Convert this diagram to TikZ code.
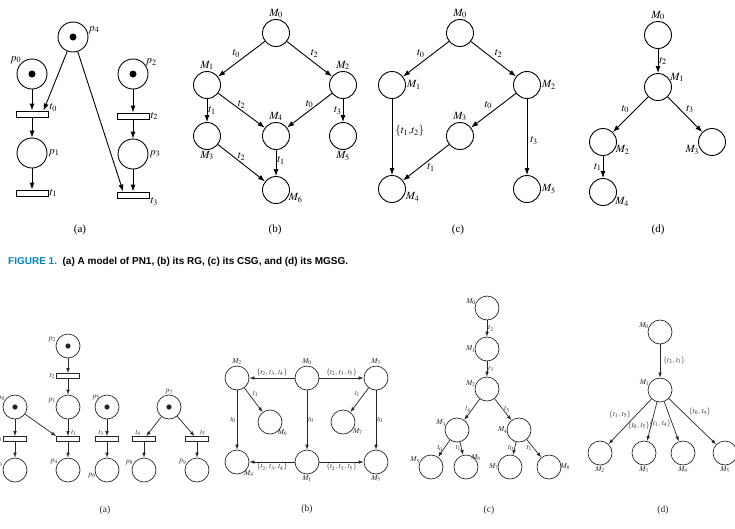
\documentclass[tikz,border=0pt]{standalone}
\usepackage{mathptmx}
\usepackage{fontspec}
\setmainfont{Liberation Serif}
\newfontfamily\capfont{Liberation Sans}
\usetikzlibrary{arrows.meta,calc}
\definecolor{figblue}{RGB}{0,134,196}

\begin{document}
\begin{tikzpicture}[x=1pt,y=-1pt,
  font=\fontsize{11}{13}\selectfont,
  place/.style={draw,circle,line width=0.9pt,minimum size=30pt,inner sep=0pt},
  token/.style={place,path picture={\fill (path picture bounding box.center) circle[radius=3.5pt];}},
  trans/.style={draw,rectangle,line width=0.9pt,minimum width=32pt,minimum height=6pt,inner sep=0pt},
  state/.style={draw,circle,line width=0.9pt,minimum size=27pt,inner sep=0pt},
  lab/.style={inner sep=1pt},
  every label/.style={inner sep=1pt},
  ar/.style={-{Latex[length=7pt,width=5pt]},line width=0.9pt},
  subcap/.style={inner sep=0pt}
]
\useasboundingbox (0,0) rectangle (735,528);

% ---- Figure 1 (a): the net
\node[token,label={[label distance=-1pt]10:$p_4$}] (p4) at (73,37) {};
\node[token,label={[label distance=-2pt]135:$p_0$}] (p0) at (32,74) {};
\node[trans,label={5:$t_0$}] (t0) at (32,114) {};
\node[place,label={right:$p_1$}] (p1) at (32,153) {};
\node[trans,label={right:$t_1$}] (t1) at (32,193) {};
\node[token,label={[label distance=-2pt]30:$p_2$}] (p2) at (133,74) {};
\node[trans,label={right:$t_2$}] (t2) at (133,116) {};
\node[place,label={right:$p_3$}] (p3) at (133,154) {};
\node[trans,label={-5:$t_3$}] (t3) at (133,195) {};
\foreach \a/\b in {p0/t0,t0/p1,p1/t1,p2/t2,t2/p3,p3/t3}{\draw[ar] (\a) -- (\b);}
\draw[ar] (p4) -- ($(t0.north)!0.7!(t0.north east)$);
\draw[ar] (p4) -- ($(t3.north west)!0.4!(t3.north)$);
\node[subcap] (capa) at (80,230) {(a)};

% ---- Figure 1 (b): RG
\node[state,label={above:$M_0$}] (b0) at (276,33) {};
\node[state,label={above:$M_1$}] (b1) at (207,85) {};
\node[state,label={above:$M_2$}] (b2) at (343,85) {};
\node[state,label={below:$M_3$}] (b3) at (207,136) {};
\node[state,label={above:$M_4$}] (b4) at (276,136) {};
\node[state,label={below:$M_5$}] (b5) at (343,136) {};
\node[state,label={[label distance=-2pt]-10:$M_6$}] (b6) at (276,190) {};
\draw[ar] (b0) -- node[lab,above left] {$t_0$} (b1);
\draw[ar] (b0) -- node[lab,above right] {$t_2$} (b2);
\draw[ar] (b1) -- node[lab,right] {$t_1$} (b3);
\draw[ar] (b1) -- node[lab,above=1pt] {$t_2$} (b4);
\draw[ar] (b2) -- node[lab,above=1pt] {$t_0$} (b4);
\draw[ar] (b2) -- node[lab,left] {$t_3$} (b5);
\draw[ar] (b3) -- node[lab,above=1pt] {$t_2$} (b6);
\draw[ar] (b4) -- node[lab,right,pos=0.4] {$t_1$} (b6);
\node[subcap] (capb) at (275,230) {(b)};

% ---- Figure 1 (c): CSG
\node[state,label={above:$M_0$}] (c0) at (460,33) {};
\node[state,label={right:$M_1$}] (c1) at (392,85) {};
\node[state,label={right:$M_2$}] (c2) at (527,85) {};
\node[state,label={above:$M_3$}] (c3) at (460,136) {};
\node[state,label={[label distance=-1pt]-10:$M_4$}] (c4) at (392,189) {};
\node[state,label={right:$M_5$}] (c5) at (527,189) {};
\draw[ar] (c0) -- node[lab,above left] {$t_0$} (c1);
\draw[ar] (c0) -- node[lab,above right] {$t_2$} (c2);
\draw[ar] (c1) -- node[lab,right=2pt,pos=0.42] {$\{t_1{,}t_2\}$} (c4);
\draw[ar] (c2) -- node[lab,above left] {$t_0$} (c3);
\draw[ar] (c2) -- node[lab,right=2pt,pos=0.55] {$t_3$} (c5);
\draw[ar] (c3) -- node[lab,below right] {$t_1$} (c4);
\node[subcap] (capc) at (458,230) {(c)};

% ---- Figure 1 (d): MGSG
\node[state,label={above:$M_0$}] (d0) at (658,35) {};
\node[state,label={[label distance=-2pt]20:$M_1$}] (d1) at (658,87) {};
\node[state,label={[label distance=-2pt]-10:$M_2$}] (d2) at (603,142) {};
\node[state,label={[label distance=-2pt]190:$M_3$}] (d3) at (712,142) {};
\node[state,label={[label distance=-2pt]-20:$M_4$}] (d4) at (603,192) {};
\draw[ar] (d0) -- node[lab,right] {$t_2$} (d1);
\draw[ar] (d1) -- node[lab,above left] {$t_0$} (d2);
\draw[ar] (d1) -- node[lab,above right] {$t_3$} (d3);
\draw[ar] (d2) -- node[lab,left] {$t_1$} (d4);
\node[subcap] (capd) at (658,230) {(d)};

% ---- caption of Figure 1
\node[anchor=west,inner sep=0pt,font=\capfont\bfseries\fontsize{10}{12}\selectfont] (fig1) at (8,262)
  {\textcolor{figblue}{FIGURE 1.}\ \ (a) A model of PN1, (b) its RG, (c) its CSG, and (d) its MGSG.};

% ---- second figure
\begin{scope}[font=\fontsize{7.5}{9}\selectfont,color=black!85,
  place/.style={draw,circle,line width=0.7pt,minimum size=24pt,inner sep=0pt},
  token/.style={place,path picture={\fill (path picture bounding box.center) circle[radius=2.6pt];}},
  trans/.style={draw,rectangle,line width=0.7pt,minimum width=23pt,minimum height=5pt,inner sep=0pt},
  state/.style={draw,circle,line width=0.7pt,minimum size=24pt,inner sep=0pt},
  ar/.style={-{Latex[length=5pt,width=3.6pt]},line width=0.7pt}]

% (a): the net
\node[token,label={[label distance=-1pt]165:$p_2$}] (q2) at (68,346) {};
\node[trans,label={left:$t_2$}] (u2) at (68,376) {};
\node[place,label={[label distance=-1pt]165:$p_1$}] (q1) at (68,407) {};
\node[trans,label={[label distance=-1pt]45:$t_1$}] (u1) at (68,439) {};
\node[place,label={[label distance=-2pt]150:$p_4$}] (q4) at (68,470) {};
\node[token,label={[label distance=-2pt]150:$p_0$}] (q0) at (15,407) {};
\node[trans,label={left:$t_0$}] (u0) at (15,439) {};
\node[place,label={[label distance=-1pt]170:$p_3$}] (q3) at (15,470) {};
\node[token,label={[label distance=-4pt]135:$p_5$}] (q5) at (107,407) {};
\node[trans,label={[label distance=-1pt]135:$t_3$}] (u3) at (107,439) {};
\node[place,label={[label distance=-2pt]190:$p_6$}] (q6) at (107,470) {};
\node[token,label={[label distance=-1pt]above:$p_7$}] (q7) at (169,407) {};
\node[trans,label={[label distance=-1pt]135:$t_4$}] (u4) at (144,439) {};
\node[trans,label={[label distance=-1pt]45:$t_5$}] (u5) at (197,439) {};
\node[place,label={[label distance=-2pt]160:$p_8$}] (q8) at (144,470) {};
\node[place,label={[label distance=-2pt]155:$p_9$}] (q9) at (197,470) {};
\foreach \a/\b in {q2/u2,u2/q1,q1/u1,u1/q4,q0/u0,u0/q3,q5/u3,u3/q6,q7/u4,q7/u5,u4/q8,u5/q9}{\draw[ar] (\a) -- (\b);}
\draw[ar] (q0) -- (u1.north west);
\node[subcap,font=\fontsize{9.5}{11}\selectfont] (capA) at (105,510) {(a)};

% (b): RG
\node[state,label={above:$M_2$}] (B2) at (237,378) {};
\node[state,label={above:$M_0$}] (B0) at (307,378) {};
\node[state,label={above:$M_3$}] (B3) at (376,378) {};
\node[state,label={[label distance=-3pt]-45:$M_6$}] (B6) at (270,422) {};
\node[state,label={[label distance=-2pt]-30:$M_7$}] (B7) at (343,422) {};
\node[state,label={[label distance=-3pt]-50:$M_4$}] (B4) at (237,462) {};
\node[state,label={below:$M_1$}] (B1) at (307,462) {};
\node[state,label={below:$M_5$}] (B5) at (376,462) {};
\draw[ar] (B0) -- node[lab,above] {$\{t_2,\,t_3,\,t_4\}$} (B2);
\draw[ar] (B0) -- node[lab,above] {$\{t_2,\,t_3,\,t_5\}$} (B3);
\draw[ar] (B1) -- node[lab,below] {$\{t_2,\,t_3,\,t_4\}$} (B4);
\draw[ar] (B1) -- node[lab,below] {$\{t_2,\,t_3,\,t_5\}$} (B5);
\draw[ar] (B2) -- node[lab,left] {$t_0$} (B4);
\draw[ar] (B2) -- node[lab,above right,pos=0.4] {$t_1$} (B6);
\draw[ar] (B0) -- node[lab,right] {$t_0$} (B1);
\draw[ar] (B3) -- node[lab,above left,pos=0.4] {$t_1$} (B7);
\draw[ar] (B3) -- node[lab,right] {$t_0$} (B5);
\node[subcap,font=\fontsize{9.5}{11}\selectfont] (capB) at (307,509) {(b)};

% (c): CSG
\node[state,label={[label distance=-2pt]170:$M_0$}] (C0) at (487,308) {};
\node[state,label={[label distance=-2pt]180:$M_1$}] (C1) at (487,349) {};
\node[state,label={[label distance=-2pt]175:$M_2$}] (C2) at (487,389) {};
\node[state,label={[label distance=-2pt]165:$M_3$}] (C3) at (457,430) {};
\node[state,label={[label distance=-2pt]180:$M_4$}] (C4) at (519,430) {};
\node[state,label={[label distance=-2pt]165:$M_5$}] (C5) at (431,467) {};
\node[state,label={[label distance=-6pt]50:$M_6$}] (C6) at (466,467) {};
\node[state,label={[label distance=-2pt]180:$M_7$}] (C7) at (510,467) {};
\node[state,label={[label distance=-2pt]0:$M_8$}] (C8) at (549,467) {};
\draw[ar] (C0) -- node[lab,right] {$t_2$} (C1);
\draw[ar] (C1) -- node[lab,right] {$t_3$} (C2);
\draw[ar] (C2) -- node[lab,left] {$t_4$} (C3);
\draw[ar] (C2) -- node[lab,right] {$t_5$} (C4);
\draw[ar] (C3) -- node[lab,left] {$t_0$} (C5);
\draw[ar] (C3) -- node[lab,left,pos=0.45,inner sep=0pt] {$t_1$} (C6);
\draw[ar] (C4) -- node[lab,left,pos=0.45] {$t_0$} (C7);
\draw[ar] (C4) -- node[lab,left,pos=0.45] {$t_1$} (C8);
\node[subcap,font=\fontsize{9.5}{11}\selectfont] (capC) at (489,510) {(c)};

% (d): MGSG
\node[state,label={[label distance=-2pt]170:$M_0$}] (D0) at (660,332) {};
\node[state,label={[label distance=-2pt]160:$M_1$}] (D1) at (660,390) {};
\node[state,label={below:$M_2$}] (D2) at (600,453) {};
\node[state,label={below:$M_3$}] (D3) at (644,453) {};
\node[state,label={below:$M_4$}] (D4) at (683,453) {};
\node[state,label={below:$M_5$}] (D5) at (725,453) {};
\draw[ar] (D0) -- node[lab,right=2pt] {$\{t_2,\,t_3\}$} (D1);
\draw[ar] (D1) -- node[lab,above left,pos=0.45] {$\{t_1,\,t_5\}$} (D2);
\draw[ar] (D1) -- node[lab,left,pos=0.6] {$\{t_0,\,t_5\}$} (D3);
\draw[ar] (D1) -- node[lab,left,pos=0.55] {$\{t_1,\,t_4\}$} (D4);
\draw[ar] (D1) -- node[lab,above right,pos=0.4] {$\{t_0,\,t_4\}$} (D5);
\node[subcap,font=\fontsize{9.5}{11}\selectfont] (capD) at (663,510) {(d)};
\end{scope}
\end{tikzpicture}
\end{document}
